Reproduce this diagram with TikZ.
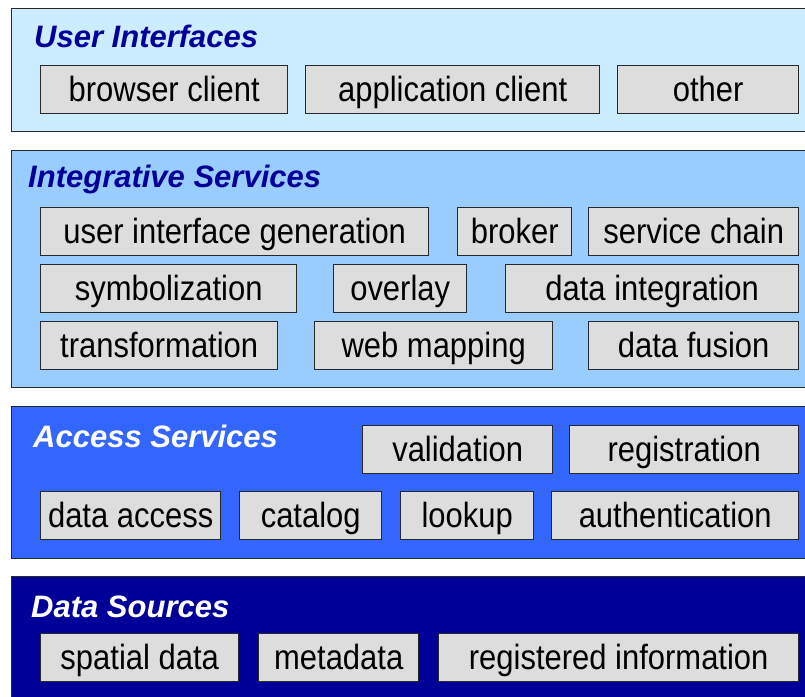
\documentclass[tikz,border=0pt]{standalone}
\usepackage{fontspec}
\setmainfont{Liberation Sans}
\newfontfamily\boxfont[FakeStretch=0.885]{Liberation Sans}
\definecolor{uiblue}{RGB}{204,236,255}
\definecolor{isblue}{RGB}{153,204,255}
\definecolor{asblue}{RGB}{51,102,255}
\definecolor{dsblue}{RGB}{0,0,153}
\definecolor{titleblue}{RGB}{0,0,153}
\definecolor{boxgray}{RGB}{221,221,221}
\definecolor{edgegray}{RGB}{40,40,40}
\begin{document}
\begin{tikzpicture}[x=1pt,y=-1pt,
  layer/.style={draw=edgegray, line width=1.4pt, anchor=north west, inner sep=0pt},
  gbox/.style={draw=edgegray, line width=1.4pt, fill=boxgray, anchor=north west,
    inner sep=0pt, text height=35.5pt, text depth=12.5pt, align=center,
    font=\boxfont\fontsize{35}{40}\selectfont},
  ltitle/.style={anchor=base west, inner sep=0pt,
    font=\fontsize{31}{36}\selectfont\bfseries\itshape}
]
\path[use as bounding box] (0,0) rectangle (805,696);

% layers
\node[layer, fill=uiblue, minimum width=810pt, minimum height=123pt] (L1) at (11,8) {};
\node[layer, fill=isblue, minimum width=810pt, minimum height=237pt] (L2) at (11,150) {};
\node[layer, fill=asblue, minimum width=810pt, minimum height=152pt] (L3) at (11,406) {};
\node[layer, fill=dsblue, minimum width=810pt, minimum height=140pt] (L4) at (11,576) {};

% titles
\node[ltitle, text=titleblue] (T1) at (34,47) {User Interfaces};
\node[ltitle, text=titleblue] (T2) at (28,187) {Integrative Services};
\node[ltitle, text=white] (T3) at (33,447) {Access Services};
\node[ltitle, text=white] (T4) at (31,617) {Data Sources};

% User Interfaces
\node[gbox, minimum width=247pt] (b1) at (40,65) {browser client};
\node[gbox, minimum width=294pt] (b2) at (305,65) {application client};
\node[gbox, minimum width=181pt] (b3) at (617,65) {other};

% Integrative Services
\node[gbox, minimum width=388pt] (i1) at (40,207) {user interface generation};
\node[gbox, minimum width=114pt] (i2) at (457,207) {broker};
\node[gbox, minimum width=210pt] (i3) at (588,207) {service chain};
\node[gbox, minimum width=256pt] (i4) at (40,264) {symbolization};
\node[gbox, minimum width=133pt] (i5) at (333,264) {overlay};
\node[gbox, minimum width=293pt] (i6) at (505,264) {data integration};
\node[gbox, minimum width=237pt] (i7) at (40,321) {transformation};
\node[gbox, minimum width=238pt] (i8) at (314,321) {web mapping};
\node[gbox, minimum width=210pt] (i9) at (588,321) {data fusion};

% Access Services
\node[gbox, minimum width=190pt] (a1) at (362,425) {validation};
\node[gbox, minimum width=229pt] (a2) at (569,425) {registration};
\node[gbox, minimum width=180pt] (a3) at (40,491) {data access};
\node[gbox, minimum width=142pt] (a4) at (239,491) {catalog};
\node[gbox, minimum width=133pt] (a5) at (400,491) {lookup};
\node[gbox, minimum width=247pt] (a6) at (551,491) {authentication};

% Data Sources
\node[gbox, minimum width=198pt] (d1) at (40,633) {spatial data};
\node[gbox, minimum width=160pt] (d2) at (258,633) {metadata};
\node[gbox, minimum width=360pt] (d3) at (438,633) {registered information};
\end{tikzpicture}
\end{document}
